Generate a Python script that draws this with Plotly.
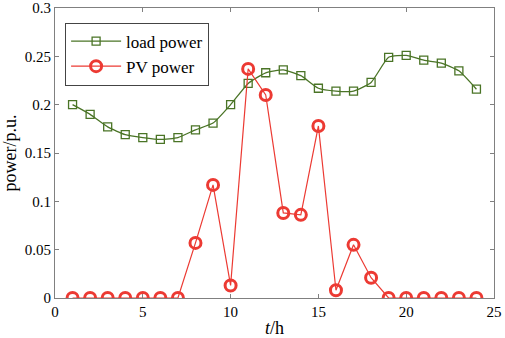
import plotly.graph_objects as go

t = list(range(1, 25))
load_power = [0.200, 0.190, 0.177, 0.169, 0.166, 0.164, 0.166, 0.174, 0.181, 0.200,
              0.222, 0.233, 0.236, 0.230, 0.217, 0.214, 0.214, 0.223, 0.249, 0.251,
              0.246, 0.243, 0.235, 0.216]
pv_power = [0, 0, 0, 0, 0, 0, 0, 0.057, 0.117, 0.013,
            0.237, 0.210, 0.088, 0.086, 0.178, 0.008, 0.055, 0.021, 0, 0,
            0, 0, 0, 0]
x_ticks = [0, 5, 10, 15, 20, 25]
y_ticks = [0, 0.05, 0.1, 0.15, 0.2, 0.25, 0.3]
y_tick_text = ["0", "0.05", "0.1", "0.15", "0.2", "0.25", "0.3"]

green = "#4a7426"
red = "#ec3a33"
font = "Liberation Serif"

fig = go.Figure()
fig.add_trace(go.Scatter(
    x=t, y=load_power, name="load power", mode="lines+markers",
    line=dict(color=green, width=1.3, shape="spline", smoothing=0.5),
    marker=dict(symbol="square-open", size=8, color=green, line=dict(width=1.3, color=green)),
))
fig.add_trace(go.Scatter(
    x=t, y=pv_power, name="PV power", mode="lines+markers",
    line=dict(color=red, width=1.2),
    marker=dict(symbol="circle-open", size=11, color=red, line=dict(width=3, color=red)),
))

axis_common = dict(
    showgrid=False, zeroline=False, showline=True, linecolor="#808080", linewidth=1,
    mirror="ticks", ticks="inside", ticklen=4, tickcolor="#808080",
    tickfont=dict(family=font, size=15, color="black"), automargin=False,
    ticklabeloverflow="allow",
)
fig.update_xaxes(range=[0, 25.0001], tickvals=x_ticks, ticktext=[str(v) for v in x_ticks], **axis_common,
                 title=dict(text="<i>t</i>/h", font=dict(family=font, size=18, color="black"), standoff=2))
fig.update_yaxes(range=[0, 0.30001], tickvals=y_ticks, ticktext=y_tick_text, **axis_common,
                 title=dict(text="power/p.u.", font=dict(family=font, size=18, color="black"), standoff=4))

fig.update_layout(
    width=505, height=338,
    margin=dict(l=55, r=11, t=8, b=40),
    plot_bgcolor="white", paper_bgcolor="white",
    font=dict(family=font, color="black"),
    legend=dict(x=0.023, y=0.95, xanchor="left", yanchor="top",
                bgcolor="white", bordercolor="#444444", borderwidth=1,
                font=dict(family=font, size=17, color="black"),
                tracegroupgap=0, itemwidth=50),
    showlegend=True,
)

fig.write_html("out.html", config={"displayModeBar": False},
               post_script="document.body.style.margin='0';document.body.style.padding='0';")
